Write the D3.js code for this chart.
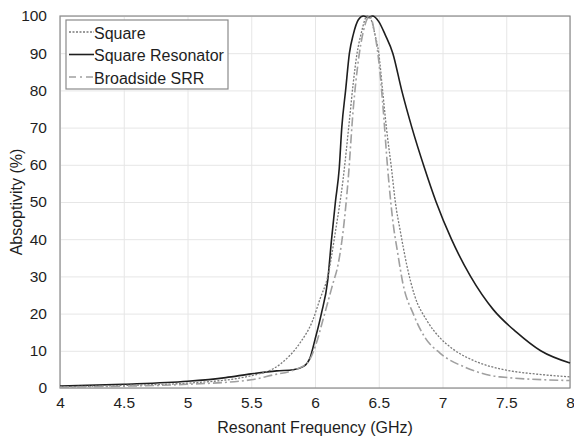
<!DOCTYPE html>
<meta charset="utf-8">
<title>Absorptivity vs resonant frequency</title>
<script src="https://d3js.org/d3.v7.min.js"></script>
<style>
  body { margin: 0; background: #fff; font-family: "Liberation Sans", Arial, sans-serif; }
  .grid line { stroke: #e6e6e6; }
  .grid path { display: none; }
  .axis text { font-size: 15.5px; fill: #1e1e1e; font-family: "Liberation Sans", Arial, sans-serif; }
  .axis path, .axis line { display: none; }
</style>
<div id="chart"></div>
<script>
  // Square (dotted)
  var sqFreq = [4.0, 4.5, 5.0, 5.5, 5.73, 5.88, 5.98, 6.04, 6.10, 6.16, 6.22, 6.27, 6.30, 6.33, 6.36, 6.41,
                6.44, 6.47, 6.50, 6.53, 6.56, 6.60, 6.63, 6.67, 6.72, 6.78, 6.88, 6.98, 7.08, 7.25, 7.5, 7.75, 8.0];
  var sqVal  = [0.3, 0.7, 1.3, 3.3, 6.5, 12, 18, 24, 30, 42, 56, 72, 82, 90, 95, 100,
                99, 95, 90, 80, 70, 59, 50, 42, 33, 25, 18, 13.5, 10.5, 7.3, 4.8, 3.7, 3.0];

  // Square Resonator (solid)
  var srFreq = [4.0, 4.5, 5.0, 5.3, 5.5, 5.7, 5.83, 5.91, 5.96, 6.0, 6.05, 6.1, 6.13, 6.16, 6.19, 6.21,
                6.24, 6.27, 6.30, 6.34, 6.38, 6.42, 6.45, 6.50, 6.55, 6.61, 6.68, 6.76, 6.86, 6.95, 7.07,
                7.22, 7.40, 7.58, 7.77, 8.0];
  var srVal  = [0.5, 1.0, 1.8, 2.8, 3.8, 4.6, 4.9, 5.8, 8, 13, 20, 29, 40, 50, 59, 70,
                80, 90, 95, 99, 100, 99.6, 100, 98.5, 95, 90, 80, 70, 59, 50, 40,
                30, 21, 15, 10, 6.7];

  // Broadside SRR (dash-dot)
  var bsFreq = [4.0, 4.5, 5.0, 5.5, 5.67, 5.83, 5.94, 6.01, 6.06, 6.10, 6.14, 6.18, 6.22, 6.26, 6.30, 6.34,
                6.38, 6.43, 6.47, 6.50, 6.53, 6.57, 6.61, 6.65, 6.69, 6.77, 6.86, 6.98, 7.19, 7.45, 8.0];
  var bsVal  = [0.2, 0.5, 1.0, 2.2, 3.5, 4.8, 6.7, 12, 18, 23, 28, 33, 42, 56, 75, 88,
                96, 100, 95, 88, 77, 59, 45, 36, 28, 20, 13.7, 9.4, 5.4, 3.0, 2.0];

  var xTicks = [4, 4.5, 5, 5.5, 6, 6.5, 7, 7.5, 8];
  var yTicks = [0, 10, 20, 30, 40, 50, 60, 70, 80, 90, 100];

  var seriesNames = ["Square", "Square Resonator", "Broadside SRR"];

  var W = 574, H = 441;
  var margin = {top: 16, right: 4, bottom: 53, left: 60},
      width = W - margin.left - margin.right,
      height = H - margin.top - margin.bottom;

  var svg = d3.select("#chart").append("svg")
      .attr("width", W).attr("height", H)
    .append("g")
      .attr("transform", "translate(" + margin.left + "," + margin.top + ")");

  var x = d3.scaleLinear().domain([4, 8]).range([0, width]);
  var y = d3.scaleLinear().domain([0, 100]).range([height, 0]);

  // gridlines
  svg.append("g").attr("class", "grid")
    .attr("transform", "translate(0," + height + ")")
    .call(d3.axisBottom(x).tickValues(xTicks).tickSize(-height).tickFormat(""));
  svg.append("g").attr("class", "grid")
    .call(d3.axisLeft(y).tickValues(yTicks).tickSize(-width).tickFormat(""));

  // plot frame
  svg.append("rect")
    .attr("x", 0).attr("y", 0).attr("width", width).attr("height", height)
    .attr("fill", "none").attr("stroke", "#8a8a8a").attr("stroke-width", 1.2);

  // axes labels
  svg.append("g").attr("class", "axis")
    .attr("transform", "translate(0," + height + ")")
    .call(d3.axisBottom(x).tickValues(xTicks).tickSize(0).tickPadding(9).tickFormat(d3.format("")));
  svg.append("g").attr("class", "axis")
    .call(d3.axisLeft(y).tickValues(yTicks).tickSize(0).tickPadding(13));

  svg.append("text")
    .attr("x", width / 2).attr("y", height + 45)
    .attr("text-anchor", "middle")
    .style("font-size", "16px").style("fill", "#1e1e1e")
    .text("Resonant Frequency (GHz)");

  svg.append("text")
    .attr("transform", "rotate(-90)")
    .attr("x", -height / 2).attr("y", -38)
    .attr("text-anchor", "middle")
    .style("font-size", "16px").style("fill", "#1e1e1e")
    .text("Absoptivity (%)");

  // curves
  function toPoints(fs, vs) { return fs.map(function(f, i) { return [f, vs[i]]; }); }
  var line = d3.line()
    .x(function(d) { return x(d[0]); })
    .y(function(d) { return y(d[1]); })
    .curve(d3.curveMonotoneX);

  var styles = [
    {data: toPoints(sqFreq, sqVal), stroke: "#7a7a7a", width: 1.3, dash: "2,1.5"},
    {data: toPoints(srFreq, srVal), stroke: "#1e1e1e", width: 1.6, dash: null},
    {data: toPoints(bsFreq, bsVal), stroke: "#a0a0a0", width: 1.6, dash: "9,3,2,3"}
  ];

  // solid first so the dashed ones sit on top
  [1, 0, 2].forEach(function(i) {
    var s = styles[i];
    svg.append("path")
      .datum(s.data)
      .attr("fill", "none")
      .attr("stroke", s.stroke)
      .attr("stroke-width", s.width)
      .attr("stroke-dasharray", s.dash)
      .attr("d", line);
  });

  // legend
  var lg = svg.append("g").attr("transform", "translate(6,4)");
  lg.append("rect")
    .attr("width", 162).attr("height", 69)
    .attr("fill", "#fff").attr("stroke", "#8a8a8a").attr("stroke-width", 1.2);
  seriesNames.forEach(function(name, i) {
    var s = styles[i];
    var yy = 12 + i * 22.5;
    lg.append("line")
      .attr("x1", 3).attr("x2", 28).attr("y1", yy).attr("y2", yy)
      .attr("stroke", s.stroke).attr("stroke-width", s.width)
      .attr("stroke-dasharray", i == 2 ? "7,4,2,4" : s.dash);
    lg.append("text")
      .attr("x", 28).attr("y", yy + 1)
      .attr("dominant-baseline", "central")
      .style("font-size", "16px").style("fill", "#1e1e1e")
      .text(name);
  });
</script>
